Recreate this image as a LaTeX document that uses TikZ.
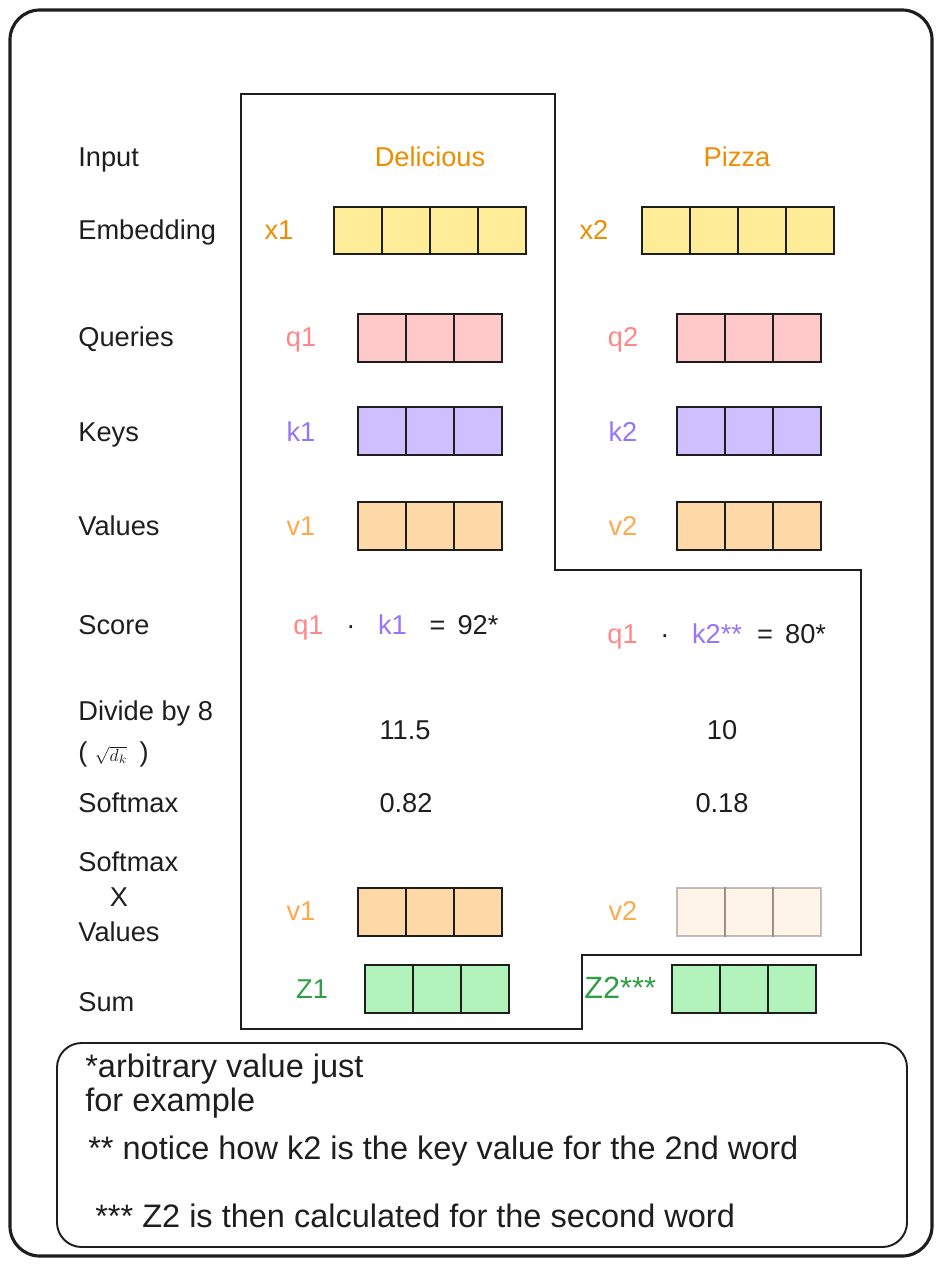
\documentclass[tikz,border=0pt]{standalone}
\usepackage{fontspec}
\setmainfont{Liberation Sans}
\usepackage{xcolor}
\usetikzlibrary{positioning}

\definecolor{inkdark}{HTML}{1E1E1E}
\definecolor{wordorange}{HTML}{F08C00}
\definecolor{qred}{HTML}{FF8787}
\definecolor{kviolet}{HTML}{9775FA}
\definecolor{vorange}{HTML}{FFA94D}
\definecolor{zgreen}{HTML}{2F9E44}
\definecolor{embfill}{HTML}{FFEC99}
\definecolor{qfill}{HTML}{FFC9C9}
\definecolor{kfill}{HTML}{D0BFFF}
\definecolor{vfill}{HTML}{FFD8A8}
\definecolor{zfill}{HTML}{B2F2BB}

\tikzset{
  rowlbl/.style={anchor=base west, inner sep=0pt, text=inkdark, font=\fontsize{15.5}{18}\selectfont},
  tok/.style={anchor=base, inner sep=0pt, font=\fontsize{15.5}{18}\selectfont},
  notetext/.style={anchor=base west, inner sep=0pt, text=inkdark, font=\fontsize{18.5}{22}\selectfont},
  cellbox/.style={draw=inkdark, line width=1.1pt},
}

\begin{document}
\begin{tikzpicture}[x=0.02cm, y=-0.02cm]
            \useasboundingbox (0,0) rectangle (942,1266);

            % outer frame and the stepped outline
            \draw[inkdark, line width=1.8pt, rounded corners=17pt] (10,10) rectangle (932,1256);
            \draw[color=inkdark, line width=1.1pt] (241,94) -- (555,94) -- (555,570) -- (861,570)
                -- (861,955) -- (582,955) -- (582,1029) -- (241,1029) -- cycle;

            % row labels
            \node[rowlbl] (input) at (78,167) {Input};
            \node[rowlbl] (embedding) at (78,240) {Embedding};
            \node[rowlbl] (queries) at (78,347) {Queries};
            \node[rowlbl] (keys) at (78,441) {Keys};
            \node[rowlbl] (values) at (78,535) {Values};
            \node[rowlbl] (score) at (78,634) {Score};
            \node[rowlbl] (divide) at (78,720) {Divide by 8};
            \node[rowlbl] (sqrtdk) at (78,761) {(\ {\normalsize$\sqrt{d_k}$}\ \,)};
            \node[rowlbl] (softmax) at (78,812) {Softmax};
            \node[rowlbl] (softmaxb) at (78,871) {Softmax};
            \node[tok, text=inkdark] (times) at (119,906) {X};
            \node[rowlbl] (valuesb) at (78,941) {Values};
            \node[rowlbl] (sum) at (78,1011) {Sum};

            % words
            \node[tok, text=wordorange] (delicious) at (430,167) {Delicious};
            \node[tok, text=wordorange] (pizza) at (737,167) {Pizza};

            % embeddings
            \node[tok, text=wordorange] (xone) at (279,240) {x1};
            \node[tok, text=wordorange] (xtwo) at (594,240) {x2};
            \foreach \x in {334,382,430,478} \draw[cellbox, fill=embfill] (\x,207) rectangle ++(48,47);
            \foreach \x in {642,690,738,786} \draw[cellbox, fill=embfill] (\x,207) rectangle ++(48,47);

            % queries, keys, values
            \node[tok, text=qred] (qone) at (301,347) {q1};
            \node[tok, text=qred] (qtwo) at (623,347) {q2};
            \node[tok, text=kviolet] (kone) at (301,441) {k1};
            \node[tok, text=kviolet] (ktwo) at (623,441) {k2};
            \node[tok, text=vorange] (vone) at (301,535) {v1};
            \node[tok, text=vorange] (vtwo) at (623,535) {v2};
            \foreach \x in {358,406,454} {
                \draw[cellbox, fill=qfill] (\x,314) rectangle ++(48,48);
                \draw[cellbox, fill=kfill] (\x,407) rectangle ++(48,48);
                \draw[cellbox, fill=vfill] (\x,502) rectangle ++(48,48);
            }
            \foreach \x in {677,725,773} {
                \draw[cellbox, fill=qfill] (\x,314) rectangle ++(48,48);
                \draw[cellbox, fill=kfill] (\x,407) rectangle ++(48,48);
                \draw[cellbox, fill=vfill] (\x,502) rectangle ++(48,48);
            }

            % scores
            \node[rowlbl] (scoreone) at (293,634)
                {\textcolor{qred}{q1}\ \ \ ·\ \ \ \textcolor{kviolet}{k1}\ \ \ =\ \,92*};
            \node[rowlbl] (scoretwo) at (607,643)
                {\textcolor{qred}{q1}\ \ \ ·\ \ \ \textcolor{kviolet}{k2**}\ \ =\ \,80*};
            \node[tok, text=inkdark] (divone) at (405,739) {11.5};
            \node[tok, text=inkdark] (divtwo) at (722,739) {10};
            \node[tok, text=inkdark] (smone) at (406,812) {0.82};
            \node[tok, text=inkdark] (smtwo) at (722,812) {0.18};

            % weighted values
            \node[tok, text=vorange] (wvone) at (301,920) {v1};
            \node[tok, text=vorange] (wvtwo) at (623,920) {v2};
            \foreach \x in {358,406,454} \draw[cellbox, fill=vfill] (\x,888) rectangle ++(48,48);
            \foreach \x in {677,725,773} \draw[cellbox, fill=vfill, opacity=0.28] (\x,888) rectangle ++(48,48);

            % sums
            \node[tok, text=zgreen] (zone) at (312,998) {Z1};
            \node[rowlbl, text=zgreen, font=\fontsize{17.5}{20}\selectfont] (ztwo) at (584,998) {Z2***};
            \foreach \x in {365,413,461} \draw[cellbox, fill=zfill] (\x,965) rectangle ++(48,48);
            \foreach \x in {672,720,768} \draw[cellbox, fill=zfill] (\x,965) rectangle ++(48,48);

            % notes
            \draw[inkdark, line width=1.1pt, rounded corners=14pt] (57,1043) rectangle (907,1247);
            \node[notetext] (noteone) at (85,1077) {*arbitrary value just};
            \node[notetext] (noteonb) at (85,1111) {for example};
            \node[notetext] (notetwo) at (88,1159) {** notice how k2 is the key value for the 2nd word};
            \node[notetext] (notethree) at (95,1227) {*** Z2 is then calculated for the second word};
        \end{tikzpicture}
\end{document}
